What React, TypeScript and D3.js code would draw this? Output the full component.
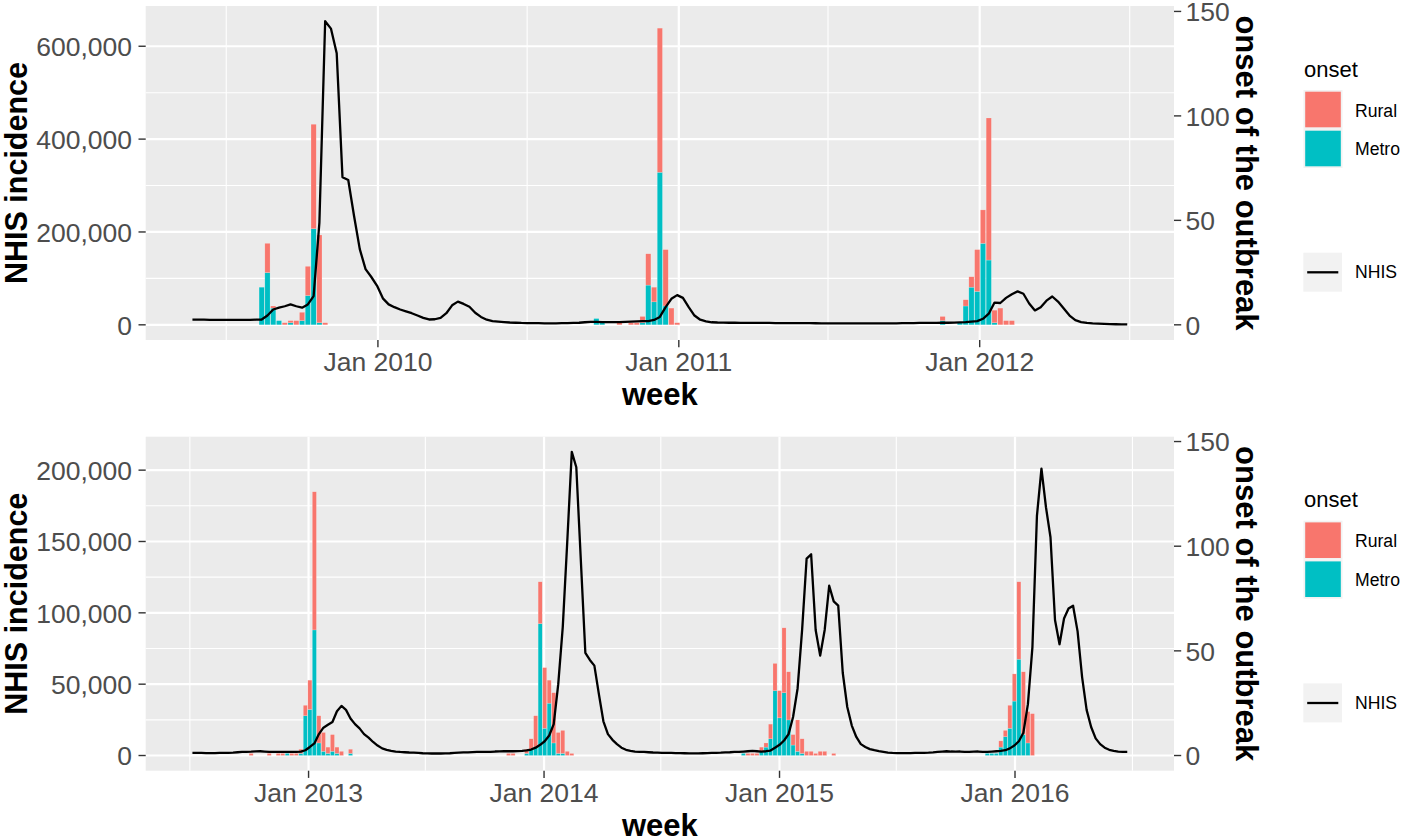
import * as d3 from "d3";
import React from "react";

// ggplot-ish look: two stacked panels, NHIS line (left axis) + onset bars (right axis)
const FONT = "'Liberation Sans', Arial, Helvetica, sans-serif";
const RURAL = "#F8766D";
const METRO = "#00BFC4";
const AXIS_TEXT = "#4D4D4D";
const TICK = "#333333";

// ── Top panel: 2009 – mid 2012 ───────────────────────────────────────────────
const topStart = "2009-05-21";
const topNhis = [
  11000, 11000, 11000, 10800, 10800, 10500, 10500, 10500, 10500, 10500, 10500, 11000,
  11500, 20000, 33000, 37000, 40000, 44000, 40000, 37000, 44000, 62000, 220000, 654000,
  638000, 585000, 318000, 312000, 235000, 163000, 120000, 103000, 84000, 57000, 44000, 38000,
  33000, 29000, 25000, 20000, 15000, 11500, 12000, 15000, 25000, 42000, 50000, 45000,
  39000, 26000, 17000, 11000, 8000, 7000, 6000, 5000, 4500, 4000, 3800, 3500,
  3500, 3300, 3300, 3300, 3500, 3500, 4000, 4500, 5500, 6500, 6500, 6000,
  6000, 5600, 6000, 6500, 7000, 7500, 7800, 8000, 10500, 17000, 38000, 56000,
  64000, 58000, 38000, 20000, 11000, 7500, 5500, 5000, 4800, 4500, 4500, 4300,
  4200, 4200, 4000, 4000, 4000, 3800, 3800, 3800, 3700, 3600, 3500, 3500,
  3400, 3300, 3300, 3200, 3200, 3100, 3100, 3000, 3000, 3000, 3000, 3000,
  3100, 3200, 3300, 3500, 3800, 3600, 4000, 4200, 4000, 4300, 4500, 4500,
  4800, 5200, 5800, 6800,
  8000, 13000, 24000, 48000, 47000, 58000, 66000, 72000, 67000, 46000, 31000, 38000,
  52000, 61000, 50000, 35000, 20000, 10000, 6000, 4000, 3000, 2500, 2000, 1500,
  1200, 1000, 800,
];
const topBarWeek = [
  12, 13, 14, 15, 16, 17, 18, 19, 20, 21, 22, 23,
  70, 71, 74, 76, 77, 78, 79, 80, 81, 82, 83, 84,
  130, 133, 134, 135, 136, 137, 138, 139, 140, 141, 142,
];
const topMetro = [
  18, 25, 8, 2, 0, 1, 0, 2, 14, 46, 1, 0,
  3, 1, 0, 0, 0, 1, 19, 11, 73, 9, 0, 0,
  2, 1, 9, 18, 16, 39, 31, 1, 0, 0, 0,
];
const topRural = [
  0, 14, 1, 0, 1, 1, 2, 4, 14, 50, 42, 1,
  0, 0, 1, 1, 1, 3, 15, 7, 69, 27, 8, 1,
  2, 0, 3, 5, 20, 16, 68, 6, 8, 2, 2,
];
const topTicks = [0, 200000, 400000, 600000];
const topMinor = [100000, 300000, 500000];
const topYears = [2010, 2011, 2012];
const topFactor = 4500;

// ── Bottom panel: mid 2012 – mid 2016 ────────────────────────────────────────
const botStart = "2012-07-05";
const botNhis = [
  1800, 1800, 1800, 1700, 1700, 1700, 1800, 1800, 1900, 2000, 2300, 2500,
  2600, 2700, 2900, 3000, 2800, 2600, 2500, 2500, 2500, 2500, 2500, 2600,
  2800, 3700, 6000, 8500, 15000, 19500, 21500, 23500, 31000, 34800, 32000, 26000,
  22000, 19000, 15000, 12500, 9500, 7000, 5000, 4000, 3300, 2800, 2500, 2300,
  2100, 2000, 1800, 1600, 1500, 1400, 1400, 1400, 1500, 1600, 1800, 2000,
  2200, 2200, 2400, 2500, 2500, 2500, 2600, 2800, 2900, 3000, 3000, 3000,
  3100, 3300, 3600, 4200, 5500, 7500, 10000, 14000, 22000, 50000, 90000, 150000,
  212800, 202000, 137000, 72000, 67000, 63000, 43000, 24000, 15000, 11000, 8000, 5500,
  4000, 3300, 2800, 2600, 2500, 2300, 2100, 2000, 1900, 1800, 1800, 1700,
  1700, 1600, 1500, 1500, 1500, 1600, 1700, 1800, 1900, 2000, 2200, 2300,
  2500, 2600, 2800, 3000, 3200, 3000, 2800, 3000, 3500, 5500, 7500, 10500,
  15000, 27000, 47000, 88000, 138000, 141000, 88000, 70000, 88000, 119000, 108000, 105000,
  58000, 34000, 21000, 13000, 8000, 6000, 4500, 3700, 3000, 2500, 2000, 1800,
  1700, 1700, 1700, 1700, 1800, 1800, 1900, 2000, 2200, 2500, 2800, 3000,
  2800, 2700, 2800, 2600, 2500, 2700, 2800, 2500, 2600, 2800, 3000, 3200,
  3700, 5000, 7000, 10000, 16000, 36000, 76000, 168000, 201000, 174000, 153000, 95000,
  78000, 96000, 103000, 105000, 87000, 55000, 32000, 20000, 12000, 8000, 5500, 4000,
  3300, 2800, 2500, 2500,
];
const botBarWeek = [
  13, 17, 19, 20, 21, 22, 23, 24, 25, 26, 27, 28, 29, 30, 31, 32, 33, 35,
  70, 71, 74, 75, 76, 77, 78, 79, 80, 81, 82, 83, 84,
  122, 123, 124, 125, 126, 127, 128, 129, 130, 131, 132, 133, 134, 135, 136, 137, 138, 139, 140, 142,
  176, 177, 178, 179, 180, 181, 182, 183, 184, 185, 186,
];
const botMetro = [
  0, 0, 0, 0, 1, 0, 0, 1, 19, 22, 60, 6, 2, 1, 2, 1, 0, 1,
  0, 0, 1, 3, 4, 63, 13, 25, 6, 1, 1, 0, 0,
  1, 0, 0, 0, 2, 4, 8, 31, 18, 30, 17, 5, 2, 1, 0, 0, 0, 0, 0, 0,
  1, 1, 1, 4, 9, 13, 26, 46, 10, 6, 0,
];
const botRural = [
  1, 1, 1, 1, 0, 1, 1, 2, 5, 14, 66, 13, 9, 3, 8, 3, 2, 2,
  1, 1, 2, 5, 15, 20, 29, 11, 24, 10, 11, 2, 1,
  0, 1, 1, 1, 2, 2, 7, 13, 13, 31, 23, 5, 15, 7, 2, 2, 1, 2, 2, 1,
  0, 0, 0, 3, 3, 11, 13, 37, 30, 15, 20,
];
const botTicks = [0, 50000, 100000, 150000, 200000];
const botMinor = [25000, 75000, 125000, 175000];
const botYears = [2013, 2014, 2015, 2016];
const botFactor = 1467;

const onsetTicks = [0, 50, 100, 150];
const legendItems = ["Rural", "Metro"];

// panel box (px), same for both panels, the lower one is shifted down
const PL = 145.7, PR = 1174, PT = 6, PB = 340;
const fmt = d3.format(",");
const parse = d3.utcParse("%Y-%m-%d");

interface PanelProps {
  dy: number;
  start: string;
  nhis: number[];
  barWeek: number[];
  metro: number[];
  rural: number[];
  factor: number;
  ticks: number[];
  minor: number[];
  years: number[];
}

function Panel({ dy, start, nhis, barWeek, metro, rural, factor, ticks, minor, years }: PanelProps) {
  const t0 = parse(start) as Date;
  const dates = nhis.map((_, i) => d3.utcDay.offset(t0, 7 * i));
  const first = +dates[0], last = +dates[dates.length - 1];
  const pad = (last - first) * 0.05;
  const x = d3.scaleUtc().domain([new Date(first - pad), new Date(last + pad)]).range([PL, PR]);

  const totals = metro.map((m, i) => (m + rural[i]) * factor);
  const maxV = d3.max([...nhis, ...totals]) as number;
  const y = d3.scaleLinear().domain([-0.05 * maxV, 1.05 * maxV]).range([PB, PT]);

  const line = d3.line<number>()
    .x((_, i) => x(dates[i]))
    .y((v) => y(v));

  const weekPx = x(dates[1]) - x(dates[0]);
  const barW = weekPx * 0.9;

  // Jan ticks + Jul minor gridlines
  const jan = years.map((yr) => new Date(Date.UTC(yr, 0, 1)));
  const jul = d3.range(years[0] - 1, years[years.length - 1] + 1)
    .map((yr) => new Date(Date.UTC(yr, 6, 1)))
    .filter((d) => x(d) >= PL && x(d) <= PR);

  return (
    <g transform={`translate(0,${dy})`}>
      <rect x={PL} y={PT} width={PR - PL} height={PB - PT} fill="#EBEBEB" />
      {/* grid */}
      {minor.map((v) => (
        <line key={"hm" + v} x1={PL} x2={PR} y1={y(v)} y2={y(v)} stroke="#fff" strokeWidth={1.1} />
      ))}
      {jul.map((d) => (
        <line key={"vm" + +d} x1={x(d)} x2={x(d)} y1={PT} y2={PB} stroke="#fff" strokeWidth={1.1} />
      ))}
      {ticks.map((v) => (
        <line key={"h" + v} x1={PL} x2={PR} y1={y(v)} y2={y(v)} stroke="#fff" strokeWidth={2.2} />
      ))}
      {jan.map((d) => (
        <line key={"v" + +d} x1={x(d)} x2={x(d)} y1={PT} y2={PB} stroke="#fff" strokeWidth={2.2} />
      ))}

      {/* stacked onset bars: Metro bottom, Rural on top */}
      {barWeek.map((w, i) => {
        const cx = x(d3.utcDay.offset(t0, 7 * w));
        const m = metro[i] * factor;
        const r = rural[i] * factor;
        return (
          <g key={"b" + w}>
            {metro[i] > 0 && (
              <rect x={cx - barW / 2} width={barW} y={y(m)} height={y(0) - y(m)}
                fill={METRO} stroke="#fff" strokeOpacity={0.35} strokeWidth={0.5} />
            )}
            {rural[i] > 0 && (
              <rect x={cx - barW / 2} width={barW} y={y(m + r)} height={y(m) - y(m + r)}
                fill={RURAL} stroke="#fff" strokeOpacity={0.35} strokeWidth={0.5} />
            )}
          </g>
        );
      })}

      <path d={line(nhis) ?? ""} fill="none" stroke="#000" strokeWidth={2.3} strokeLinejoin="round" />

      {/* left axis */}
      {ticks.map((v) => (
        <g key={"lt" + v}>
          <line x1={PL - 7.2} x2={PL} y1={y(v)} y2={y(v)} stroke={TICK} strokeWidth={1.4} />
          <text x={132} y={y(v) + 9.8} textAnchor="end" fontSize={26.5} fill={AXIS_TEXT} fontFamily={FONT}>
            {fmt(v)}
          </text>
        </g>
      ))}
      {/* right axis (onset) */}
      {onsetTicks.map((v) => (
        <g key={"rt" + v}>
          <line x1={PR} x2={PR + 7.2} y1={y(v * factor)} y2={y(v * factor)} stroke={TICK} strokeWidth={1.4} />
          <text x={1185.5} y={y(v * factor) + 9.8} fontSize={26.5} fill={AXIS_TEXT} fontFamily={FONT}>
            {v}
          </text>
        </g>
      ))}
      {/* bottom axis */}
      {jan.map((d) => (
        <g key={"xt" + +d}>
          <line x1={x(d)} x2={x(d)} y1={PB} y2={PB + 7.2} stroke={TICK} strokeWidth={1.4} />
          <text x={x(d)} y={371} textAnchor="middle" fontSize={26.5} fill={AXIS_TEXT} fontFamily={FONT}>
            {d3.utcFormat("Jan %Y")(d)}
          </text>
        </g>
      ))}

      {/* titles */}
      <text transform="translate(26.5,173) rotate(-90)" textAnchor="middle" fontSize={30.5}
        fontWeight="bold" fontFamily={FONT} fill="#000">NHIS incidence</text>
      <text transform="translate(1236,173) rotate(90)" textAnchor="middle" fontSize={31}
        fontWeight="bold" fontFamily={FONT} fill="#000">onset of the outbreak</text>
      <text x={(PL + PR) / 2} y={405} textAnchor="middle" fontSize={31} fontWeight="bold"
        fontFamily={FONT} fill="#000">week</text>

      {/* legends */}
      <text x={1304} y={76.7} fontSize={22} fontFamily={FONT} fill="#000">onset</text>
      {legendItems.map((name, i) => (
        <g key={name}>
          <rect x={1303.5} y={90 + i * 39} width={39} height={39} fill="#F2F2F2" />
          <rect x={1305.2} y={91.7 + i * 39} width={35.6} height={35.6}
            fill={name === "Rural" ? RURAL : METRO} />
          <text x={1355} y={116.5 + i * 38.7} fontSize={17.6} fontFamily={FONT} fill="#000">{name}</text>
        </g>
      ))}
      <rect x={1303.3} y={252.7} width={38.7} height={39} fill="#F2F2F2" />
      <line x1={1307.2} x2={1338.3} y1={272.3} y2={272.3} stroke="#000" strokeWidth={2.3} />
      <text x={1355} y={278.3} fontSize={17.6} fontFamily={FONT} fill="#000">NHIS</text>
    </g>
  );
}

export default function App() {
  return (
    <div style={{ position: "absolute", left: 0, top: 0 }}>
      <svg width={1401} height={837} viewBox="0 0 1401 837" style={{ display: "block", background: "#fff" }}>
        <Panel dy={0} start={topStart} nhis={topNhis} barWeek={topBarWeek} metro={topMetro}
          rural={topRural} factor={topFactor} ticks={topTicks} minor={topMinor} years={topYears} />
        <Panel dy={430.7} start={botStart} nhis={botNhis} barWeek={botBarWeek} metro={botMetro}
          rural={botRural} factor={botFactor} ticks={botTicks} minor={botMinor} years={botYears} />
      </svg>
    </div>
  );
}
